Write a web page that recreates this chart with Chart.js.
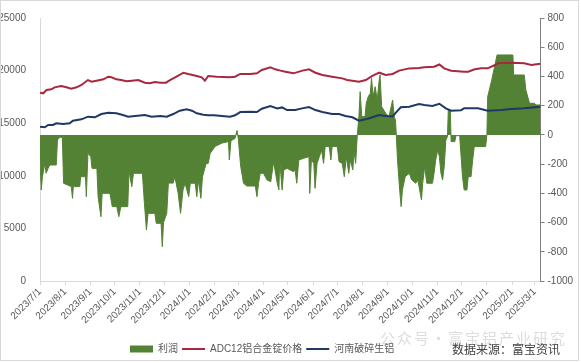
<!DOCTYPE html>
<html>
<head>
<meta charset="utf-8">
<script src="https://cdn.jsdelivr.net/npm/chart.js@4.4.1/dist/chart.umd.min.js"></script>
<style>
  html, body { margin: 0; padding: 0; background: #fff; }
  #frame { position: absolute; left: 0; top: 0; width: 579px; height: 361px; border: 1px solid #d9d9d9; box-sizing: border-box; }
  #c { position: absolute; left: 0; top: 0; }
  #source { position: absolute; left: 452px; top: 341px; font: 12px "Noto Sans CJK SC", sans-serif; line-height: 16px; color: #404040; white-space: nowrap; }
  #wm { position: absolute; left: 380px; top: 328px; font: 15px "Noto Sans CJK SC", sans-serif; line-height: 20px; letter-spacing: 2px; color: rgba(130,130,130,0.28); white-space: nowrap; pointer-events: none; }
</style>
</head>
<body>
<div id="frame"><canvas id="c" width="577" height="359"></canvas></div>
<div id="source">数据来源：富宝资讯</div>
<div id="wm">公众号·富宝铝产业研究</div>
<script>
// ---- tick labels (month starts) ----
const monthLabels = ['2023/7/1','2023/8/1','2023/9/1','2023/10/1','2023/11/1','2023/12/1','2024/1/1','2024/2/1','2024/3/1','2024/4/1','2024/5/1','2024/6/1','2024/7/1','2024/8/1','2024/9/1','2024/10/1','2024/11/1','2024/12/1','2025/1/1','2025/2/1','2025/3/1'];

// ---- series (x = days since 2023/7/1) ----
const profitDays = [0,1.5,3,6,7.5,10,12,20,21.5,24,27.5,29,38.5,40,41,49,50,56,57,59,62.5,64,70,71.5,75,76.5,86,89,94.5,97,99.5,108,109.5,113,115,126,128.5,131,133,141.5,143,149,150.5,152,156,158,164,166,170,173,176,178.5,183,185,191,193,195,198,200,204.5,207,209.5,215.5,224,232,233,235,240,242.5,244,247,250.5,254.5,265,267,269,271,275,279.5,284,287.5,292,294,295,298,300,304,312,314,316,318.5,324.5,331,332,334,337,338.5,341,346.5,349,351,356,358,359.5,366,368,372,374.5,377,380,382,385,386.5,388.5,390.5,392.5,394,396,400,401.5,404,406.5,408,410,412.5,415,417.5,418.5,420.5,425.5,429.5,434,436,437.5,438.5,440,443,444.5,446,449.5,454.5,457.5,462.5,465,468,469.5,471,473.5,476,483,485,487,489.5,491.5,493.5,495.5,497.5,499.5,501.5,502.5,505,506,510.5,512,516.5,518,520,522,525.5,527,530.5,532.5,534.5,548.5,550,551,553,556,559,562.5,582,583,596,598,602.5,608.5,610.5,616];
const profitValues = [-172,-377,-286,-195,-263,-229,-206,-206,-35,-17,-17,-331,-354,-434,-354,-354,-286,-286,-423,-126,-149,-229,-229,-423,-560,-400,-400,-491,-491,-560,-491,-491,-252,-354,-263,-263,-468,-651,-537,-537,-605,-605,-765,-600,-537,-330,-330,-286,-400,-537,-377,-331,-423,-331,-331,-423,-309,-434,-286,-195,-195,-126,-79,-56,-46,-172,-40,-24,30,-24,-216,-331,-350,-350,-423,-331,-263,-263,-309,-320,-183,-331,-377,-172,-377,-240,-229,-252,-240,-331,-172,-160,-149,-400,-172,-195,-366,-195,-103,-195,-80,-80,-172,-80,-80,-183,-195,-286,-149,-263,-172,-240,-115,-195,0,125,296,125,125,216,262,284,387,262,330,239,376,410,193,148,125,239,125,100,0,-172,-400,-491,-377,-286,-263,-309,-331,-309,-400,-445,-331,-217,-331,-331,-263,-172,-103,-149,-263,-309,-217,-35,-12,170,170,-46,-46,-5,-5,-126,-286,-377,-377,-286,-286,-172,-80,-80,0,262,307,376,455,547,547,410,410,307,216,216,205,205];

const adc12Days = [0,4,8,14,18,26,32.5,38.5,45,51,59,63.5,69.5,78,84,88,94,100,106.5,113,121,129,135,141.5,148,155,160,168,176.5,182.5,193,199,203,207,217.5,234,240,246.5,259,267,273,283.5,289.5,296,302,312,323,331,339,347.5,359.5,372,378,384.5,392.5,401,409,417.5,425.5,434,442,454.5,466.5,473,485,491.5,497.5,506,522,527,535,543,551,560,563.5,580,596,604.5,616];
const adc12Prices = [17900,17840,18150,18220,18410,18540,18410,18280,18410,18630,19100,18950,19040,19170,19420,19360,19170,19100,18980,19040,19100,18850,18790,18920,18850,18850,19100,19420,19800,19680,19490,19360,19040,19490,19420,19360,19420,19680,19680,19740,20060,20310,20120,20000,19900,19740,20000,20120,19800,19580,19420,19260,19110,19040,18950,19100,19490,19800,19580,19680,20000,20210,20250,20310,20370,20580,20215,19990,19900,19900,20120,20215,20215,20530,20690,20750,20690,20530,20660];

const henanDays = [0,6,10,16,20,28.5,36.5,40.5,51,59,67.5,75.5,84,94,102,108.5,117,129,137.5,148,156,164,172,180.5,187,193,201,207,214,224,234,240,246.5,259,267,273,283.5,292,298,304,314,322.5,331,339,347.5,359.5,368,376,384.5,392.5,401,409,417.5,425.5,434,438,444,454.5,466.5,473,483,491.5,499.5,506,518,522,539,551,567.5,580,596,616];
const henanPrices = [14670,14610,14830,14830,14990,14920,14990,15240,15370,15620,15560,15870,16000,15940,15780,15620,15680,15780,15620,15680,15620,15870,16190,16320,16190,15940,15810,15750,15750,15680,15620,15750,16060,16090,16060,16380,16630,16410,16500,16250,16250,16410,16540,16250,16060,15870,15870,15680,15560,15240,15370,15560,15780,15680,15650,16000,16510,16570,16820,16730,16630,16850,16410,16190,16220,16410,16410,16190,16250,16350,16410,16570];

const seriesNames = ['利润', 'ADC12铝合金锭价格', '河南破碎生铝'];

// ---- styles ----
const GREEN = '#548235', RED = '#A8283E', NAVY = '#1F3864', TXT = '#595959';
const START = Date.UTC(2023, 6, 1);
const toDay = s => { const [y, m, d] = s.split('/').map(Number); return Math.round((Date.UTC(y, m - 1, d) - START) / 86400000); };
const monthTicks = monthLabels.map(toDay);
const pts = (xs, ys) => xs.map((x, i) => ({ x, y: ys[i] }));

Chart.defaults.font.family = '"Liberation Sans", "Noto Sans CJK SC", sans-serif';
Chart.defaults.font.size = 10;
Chart.defaults.color = TXT;

const legendPlace = {
  id: 'legendPlace',
  beforeDraw(chart) {
    const lg = chart.legend;
    if (!lg) return;
    lg.left = 125; lg.right = 577; lg.width = 452;
    lg.top = 339; lg.bottom = lg.top + lg.height;
  }
};

new Chart(document.getElementById('c'), {
  type: 'line',
  data: {
    datasets: [
      { label: seriesNames[0], data: pts(profitDays, profitValues), yAxisID: 'y1', borderColor: GREEN, backgroundColor: GREEN, borderWidth: 1, fill: 'origin', pointRadius: 0, tension: 0, order: 3 },
      { label: seriesNames[1], data: pts(adc12Days, adc12Prices), yAxisID: 'y', borderColor: RED, backgroundColor: RED, borderWidth: 2, fill: false, pointRadius: 0, tension: 0, order: 2 },
      { label: seriesNames[2], data: pts(henanDays, henanPrices), yAxisID: 'y', borderColor: NAVY, backgroundColor: NAVY, borderWidth: 2, fill: false, pointRadius: 0, tension: 0, order: 1 }
    ]
  },
  options: {
    responsive: false,
    animation: false,
    events: [],
    layout: { padding: { top: 17, left: 0, right: 0, bottom: 0 } },
    plugins: {
      tooltip: { enabled: false },
      legend: {
        position: 'bottom',
        align: 'start',
        labels: {
          usePointStyle: true,
          pointStyleWidth: 23,
          boxHeight: 7,
          padding: 4,
          color: TXT,
          font: { size: 10 },
          generateLabels: () => [
            { text: seriesNames[0], fillStyle: GREEN, strokeStyle: GREEN, lineWidth: 0, pointStyle: 'rect', datasetIndex: 0, fontColor: TXT },
            { text: seriesNames[1], fillStyle: RED, strokeStyle: RED, lineWidth: 2, pointStyle: 'line', datasetIndex: 1, fontColor: TXT },
            { text: seriesNames[2], fillStyle: NAVY, strokeStyle: NAVY, lineWidth: 2, pointStyle: 'line', datasetIndex: 2, fontColor: TXT }
          ]
        }
      }
    },
    scales: {
      x: {
        type: 'linear',
        min: 0,
        max: 616,
        afterBuildTicks: s => { s.ticks = monthTicks.map(v => ({ value: v })); },
        afterFit: s => { s.height = 55; },
        grid: { display: true, drawOnChartArea: false, drawTicks: true, tickLength: 4, color: '#d9d9d9' },
        border: { display: true, color: '#d9d9d9' },
        ticks: { autoSkip: false, minRotation: 45, maxRotation: 45, padding: 1, color: TXT, font: { size: 10 }, callback: (v, i) => monthLabels[i] }
      },
      y: {
        position: 'left',
        min: 0,
        max: 25000,
        afterFit: s => { s.width = 39; },
        grid: { display: false },
        border: { display: true, color: '#d9d9d9' },
        ticks: { stepSize: 5000, padding: 6, color: TXT, font: { size: 10 }, callback: v => String(v) }
      },
      y1: {
        position: 'right',
        min: -1000,
        max: 800,
        afterFit: s => { s.width = 37.5; },
        grid: { display: true, drawOnChartArea: false, drawTicks: true, tickLength: 4, color: '#7f7f7f' },
        border: { display: true, color: '#7f7f7f' },
        ticks: { stepSize: 200, padding: 3, color: TXT, font: { size: 10 }, callback: v => String(v) }
      }
    }
  },
  plugins: [legendPlace]
});
</script>
</body>
</html>
